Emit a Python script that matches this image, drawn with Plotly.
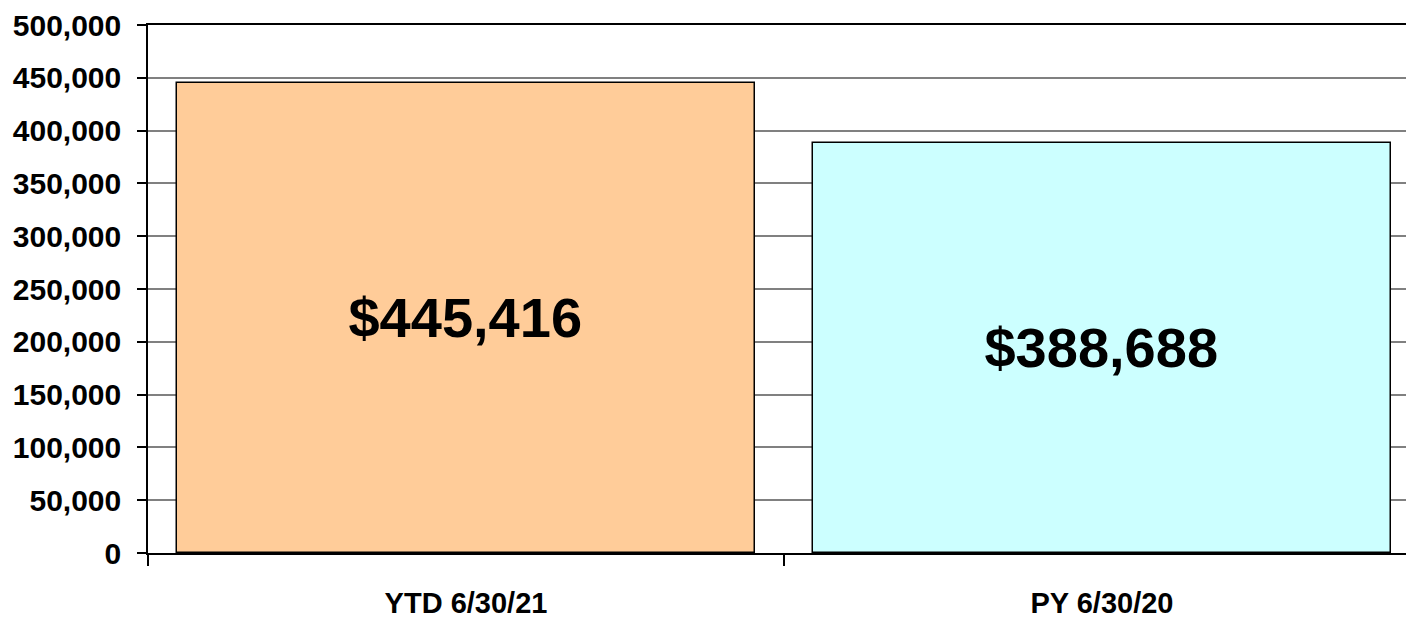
import plotly.graph_objects as go

categories = ["YTD 6/30/21", "PY 6/30/20"]
values = [445416, 388688]
bar_colors = ["#FFCC99", "#CCFFFF"]
data_labels = ["$445,416", "$388,688"]

FONT = "Liberation Sans Narrow, Arial Narrow, Liberation Sans, Arial, sans-serif"

fig = go.Figure(
    go.Bar(
        x=categories,
        y=values,
        width=0.909,
        marker=dict(color=bar_colors, line=dict(color="black", width=1.5)),
        text=data_labels,
        textposition="inside",
        insidetextanchor="middle",
        textangle=0,
        textfont=dict(family=FONT, size=56, color="black", weight=700),
        hoverinfo="skip",
    )
)

# page body has an 8px default margin, so the figure is offset by (8, 8)
fig.update_layout(
    width=1406,
    height=616,
    margin=dict(l=140, r=0, t=17, b=71),
    paper_bgcolor="white",
    plot_bgcolor="white",
    showlegend=False,
    bargap=0,
)

fig.update_xaxes(
    type="category",
    range=[-0.5, 1.5 - 6 / 636],
    tickson="boundaries",
    ticks="outside",
    ticklen=11,
    tickwidth=1.5,
    tickcolor="black",
    showline=True,
    linecolor="black",
    linewidth=2,
    mirror=True,
    showgrid=False,
    automargin=False,
    ticklabelstandoff=23,
    tickfont=dict(family=FONT, size=29, color="black", weight=700),
)

fig.update_yaxes(
    range=[0, 500000],
    dtick=50000,
    tickformat=",d",
    ticks="outside",
    ticklen=9,
    tickwidth=1.5,
    tickcolor="black",
    showline=True,
    linecolor="black",
    linewidth=1.5,
    showgrid=True,
    gridcolor="#808080",
    gridwidth=1.5,
    zeroline=False,
    automargin=False,
    ticklabelstandoff=10,
    tickfont=dict(family=FONT, size=30, color="black", weight=700),
)

fig.write_html("out.html")
